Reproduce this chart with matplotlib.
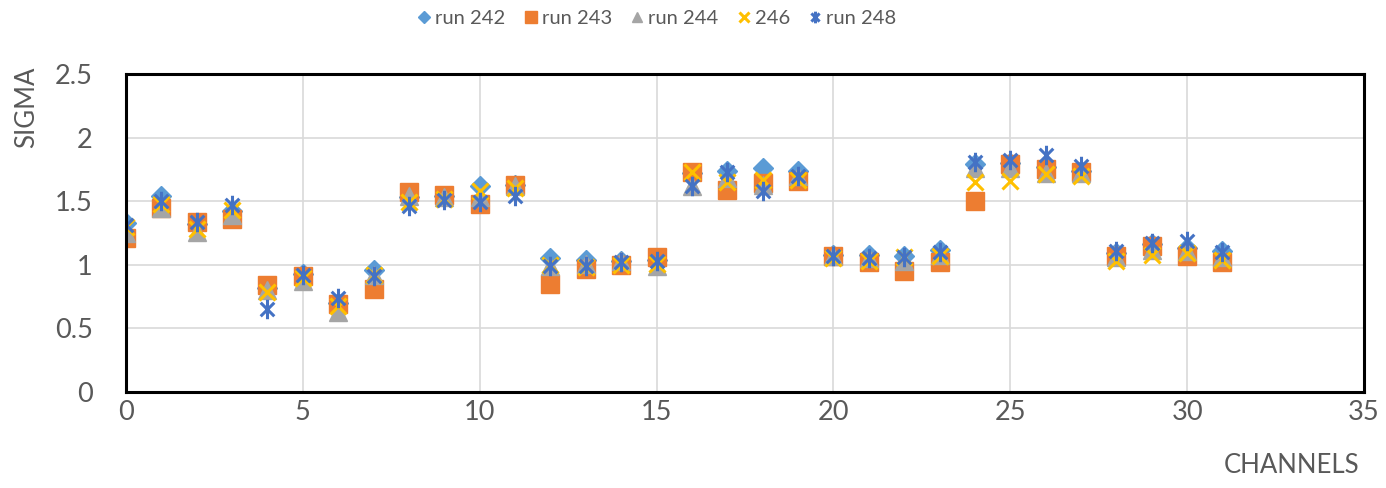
import matplotlib.pyplot as plt
from matplotlib.path import Path

# canales y valores de sigma por run
channels = list(range(32))

run_242 = [1.33, 1.54, 1.32, 1.42, 0.82, 0.93, 0.70, 0.96, 1.53, 1.54,
           1.62, 1.63, 1.05, 1.04, 1.03, 1.04, 1.72, 1.74, 1.76, 1.74,
           1.08, 1.08, 1.07, 1.12, 1.79, 1.80, 1.77, 1.74, 1.09, 1.16,
           1.13, 1.11]
run_243 = [1.21, 1.45, 1.34, 1.36, 0.84, 0.91, 0.69, 0.81, 1.57, 1.55,
           1.48, 1.63, 0.85, 0.97, 1.00, 1.06, 1.73, 1.59, 1.64, 1.66,
           1.07, 1.02, 0.95, 1.02, 1.50, 1.79, 1.75, 1.73, 1.07, 1.15,
           1.07, 1.02]
run_244 = [1.25, 1.45, 1.26, 1.39, 0.80, 0.87, 0.63, 0.92, 1.54, 1.53,
           1.53, 1.62, 0.99, 1.01, 1.03, 0.99, 1.62, 1.68, 1.63, 1.70,
           1.07, 1.05, 1.03, 1.08, 1.76, 1.76, 1.72, 1.72, 1.06, 1.12,
           1.11, 1.06]
run_246 = [1.30, 1.48, 1.28, 1.43, 0.79, 0.90, 0.68, 0.92, 1.49, 1.52,
           1.58, 1.60, 1.00, 0.98, 1.00, 1.01, 1.73, 1.65, 1.67, 1.67,
           1.05, 1.03, 1.06, 1.07, 1.65, 1.66, 1.71, 1.70, 1.03, 1.08,
           1.09, 1.04]
run_248 = [1.31, 1.50, 1.34, 1.47, 0.65, 0.92, 0.74, 0.91, 1.46, 1.51,
           1.49, 1.54, 0.99, 0.99, 1.02, 1.03, 1.62, 1.73, 1.58, 1.70,
           1.07, 1.05, 1.06, 1.10, 1.81, 1.82, 1.86, 1.78, 1.11, 1.17,
           1.19, 1.10]

labels = ["run 242", "run 243", "run 244", "246", "run 248"]

# asterisco estilo Excel (X + linea vertical)
asterisco = Path([(0, -1), (0, 1), (-0.7, -0.7), (0.7, 0.7), (-0.7, 0.7), (0.7, -0.7)],
                 [Path.MOVETO, Path.LINETO, Path.MOVETO, Path.LINETO, Path.MOVETO, Path.LINETO])

plt.rcParams['font.family'] = ['Lato', 'DejaVu Sans']
gris = '#595959'

fig = plt.figure(figsize=(13.86, 4.88), dpi=100)
ax = fig.add_axes([0.0909, 0.1967, 0.8932, 0.6517])

ax.plot(channels, run_242, linestyle='none', marker='D', ms=10, color='#5B9BD5', label=labels[0])
ax.plot(channels, run_243, linestyle='none', marker='s', ms=13.5, color='#ED7D31', label=labels[1])
ax.plot(channels, run_244, linestyle='none', marker='^', ms=13, color='#A5A5A5', label=labels[2])
ax.plot(channels, run_246, linestyle='none', marker='x', ms=12, mew=2.2, color='#FFC000', label=labels[3])
ax.plot(channels, run_248, linestyle='none', marker=asterisco, ms=14, mew=2.2, color='#4472C4', label=labels[4])

ax.set_xlim(0, 35)
ax.set_ylim(0, 2.5)
ax.set_xticks(range(0, 36, 5))
ax.set_yticks([0, 0.5, 1, 1.5, 2, 2.5])
ax.set_yticklabels(['0', '0.5', '1', '1.5', '2', '2.5'])
ax.tick_params(axis='both', length=0, labelsize=19.5, labelcolor=gris)
ax.tick_params(axis='y', pad=24)
ax.tick_params(axis='x', pad=6)
ax.grid(True, color='#D9D9D9', linewidth=1.2)
ax.set_axisbelow(True)
for s in ax.spines.values():
    s.set_color('black')
    s.set_linewidth(2.2)

fig.text(0.019, 0.78, "SIGMA", rotation=90, ha='center', va='center', fontsize=18.5, color=gris)
fig.text(0.932, 0.047, "CHANNELS", ha='center', va='center', fontsize=18.5, color=gris)

fig.legend(loc='center', bbox_to_anchor=(0.474, 0.963), ncol=5, frameon=False,
           fontsize=14.5, labelcolor=gris, markerscale=0.6, handlelength=0.7,
           handletextpad=0.2, columnspacing=0.9)

fig.savefig("out.png", dpi=100)
